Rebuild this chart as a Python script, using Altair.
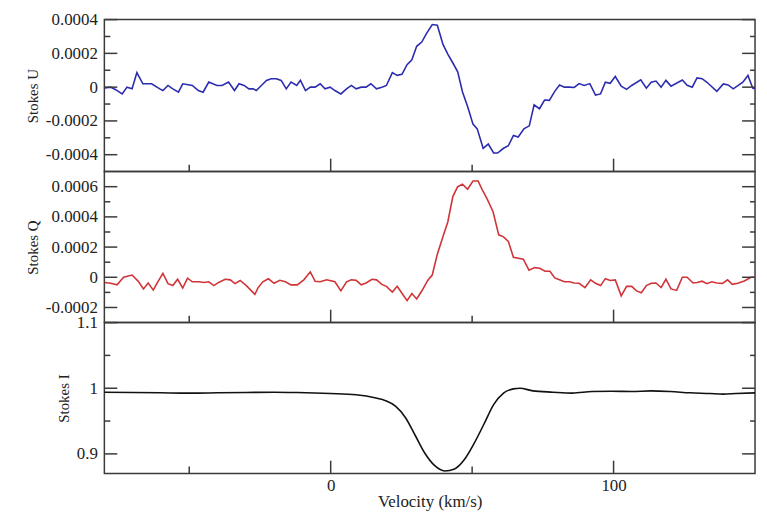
import altair as alt
import pandas as pd

# ---------------- data ----------------
vel_u = [-79.9, -77.8, -76.0, -73.7, -72.0, -70.2, -68.5, -66.4, -63.3, -60.4, -59.3, -57.5,
         -55.8, -53.8, -52.3, -48.9, -46.8, -45.1, -43.1, -40.2, -38.4, -36.1, -34.0, -32.4,
         -30.6, -28.9, -27.4, -26.3, -24.5, -22.7, -21.0, -19.2, -17.5, -15.7, -14.0, -12.0,
         -10.7, -8.9, -7.2, -5.5, -3.7, -2.0, -0.2, 1.5, 3.6, 5.6, 7.3, 9.0, 10.8, 12.5, 14.2,
         16.2, 18.1, 19.7, 21.8, 23.5, 25.2, 27.0, 28.7, 30.4, 32.2, 33.9, 35.9, 37.7, 39.7,
         41.4, 43.2, 44.9, 46.6, 48.4, 50.3, 51.8, 53.9, 55.7, 57.6, 59.0, 61.1, 62.8, 64.6,
         66.3, 68.3, 70.2, 71.9, 73.8, 75.6, 77.3, 79.2, 80.9, 82.6, 84.4, 86.1, 87.8, 89.6,
         91.6, 93.6, 95.4, 97.1, 98.8, 100.6, 102.7, 104.6, 106.4, 109.6, 111.6, 113.3, 115.0,
         116.8, 118.5, 120.3, 124.3, 126.0, 127.8, 129.5, 131.3, 133.0, 136.5, 138.8, 140.5,
         142.3, 145.7, 147.5, 149.2, 150.0]
# Stokes U in units of 1e-4
stokes_u_e4 = [-0.05, 0.0, -0.15, -0.4, 0.0, -0.1, 0.86, 0.2, 0.2, -0.1, -0.2, 0.1,
               -0.1, -0.3, 0.2, 0.1, -0.2, -0.3, 0.3, 0.1, 0.1, 0.3, -0.2, 0.2,
               0.1, -0.1, -0.1, -0.2, 0.1, 0.4, 0.5, 0.5, 0.4, -0.1, 0.3, 0.1,
               0.4, -0.2, 0.0, 0.0, 0.2, -0.1, 0.0, -0.2, -0.4, -0.1, 0.1, -0.1, 0.0, 0.0, 0.2,
               -0.1, 0.0, 0.1, 0.86, 0.7, 0.76, 1.33, 1.62, 2.42, 2.67, 3.18, 3.71, 3.67, 2.53,
               1.96, 1.43, 0.91, -0.29, -1.14, -2.19, -2.47, -3.62, -3.37, -3.9, -3.9, -3.62, -3.47, -2.86,
               -2.95, -2.47, -2.29, -1.05, -1.28, -0.76, -0.78, -0.25, 0.13, 0.0, 0.0, -0.02, 0.21, 0.1,
               0.21, -0.47, -0.4, 0.29, 0.23, 0.63, 0.06, -0.13, 0.1, 0.44, -0.06, 0.29, 0.36,
               0.0, 0.4, 0.06, 0.42, 0.11, 0.0, 0.55, 0.5, 0.29, -0.25, 0.19, 0.13,
               -0.1, 0.29, 0.69, -0.06, -0.1]

vel_q = [-79.9, -77.8, -75.5, -73.2, -70.2, -68.0, -66.2, -64.5, -62.7, -61.0, -59.3, -57.5,
         -55.8, -54.1, -52.3, -50.6, -48.9, -46.5, -44.8, -43.1, -41.3, -39.6, -37.3, -35.5,
         -33.8, -32.0, -29.8, -26.8, -25.7, -24.0, -22.0, -20.0, -18.0, -16.0, -14.0,
         -11.8, -9.5, -7.2, -5.5, -3.7, -1.4, 1.5, 3.6, 5.6, 7.3, 9.0, 10.8, 12.5, 14.6,
         16.2, 18.1, 19.7, 21.8, 23.5, 25.2, 27.0, 28.7, 30.4, 32.2, 34.3, 35.9, 37.7, 39.7,
         41.4, 43.2, 44.9, 46.6, 48.4, 50.3, 52.1, 53.6, 55.3, 57.4, 59.4, 61.1, 62.8, 64.6,
         68.1, 70.1, 72.1, 73.9, 75.8, 77.5, 79.2, 80.9, 82.6, 84.4, 86.1, 87.8, 89.9, 91.9,
         93.6, 95.4, 97.1, 98.8, 100.6, 102.7, 104.6, 106.4, 108.1, 109.8, 111.6, 113.3, 115.0,
         116.8, 118.5, 120.3, 122.3, 124.3, 126.0, 128.1, 129.5, 131.3, 133.0, 134.7, 136.5,
         138.5, 140.3, 142.0, 143.9, 146.2, 148.6, 150.0]
# Stokes Q in units of 1e-4
stokes_q_e4 = [-0.34, -0.4, -0.5, 0.0, 0.15, -0.27, -0.77, -0.38, -0.85, -0.27, 0.26, -0.42,
               -0.55, -0.13, -0.72, -0.06, -0.3, -0.3, -0.34, -0.3, -0.55, -0.34, -0.13, -0.17,
               -0.42, -0.21, -0.55, -1.13, -0.7, -0.3, -0.1, -0.4, -0.2, -0.3, -0.5,
               -0.5, -0.17, 0.36, -0.27, -0.3, -0.17, -0.3, -0.9, -0.3, -0.17, -0.2, -0.5, -0.38, -0.13,
               -0.17, -0.47, -0.6, -0.98, -0.6, -1.06, -1.55, -1.08, -1.44, -0.91, -0.21, 0.15, 1.53, 2.7,
               3.66, 5.36, 6.0, 6.17, 5.83, 6.38, 6.38, 5.79, 5.19, 4.34, 2.81, 2.68, 2.38, 1.32,
               1.2, 0.47, 0.64, 0.6, 0.4, 0.4, -0.04, -0.17, -0.3, -0.3, -0.38, -0.4, -0.68, -0.17,
               -0.4, -0.55, -0.09, -0.21, -0.17, -1.23, -0.6, -0.6, -0.9, -1.02, -0.55, -0.4, -0.38,
               -0.68, -0.13, -0.77, -0.87, 0.0, 0.0, -0.38, -0.34, -0.26, -0.42, -0.3, -0.38,
               -0.4, -0.17, -0.47, -0.4, -0.25, 0.0, 0.0]

vel_i = [-80, -70, -60, -50, -40, -30, -20, -11.8, -0.2, 9, 16, 19.4, 22.9, 26.4, 29.9, 33.3,
         36.8, 40.3, 43.8, 47.2, 50.7, 54.2, 57.6, 61.1, 64.6, 66.9, 71.5, 78.5, 85.4, 92.4,
         99.3, 106.3, 113.2, 120.1, 127.1, 134, 138.7, 143.3, 150]
stokes_i = [0.994, 0.9935, 0.993, 0.9925, 0.993, 0.9935, 0.994, 0.9935, 0.992, 0.990, 0.985,
            0.981, 0.9727, 0.9555, 0.928, 0.901, 0.882, 0.874, 0.877, 0.891, 0.916, 0.9455,
            0.975, 0.9926, 0.999, 1.0, 0.996, 0.994, 0.9926, 0.995, 0.9955, 0.995, 0.996,
            0.995, 0.993, 0.992, 0.991, 0.992, 0.993]

x_domain = [-80, 150]
x_labels = [0, 100]
x_major = [0, 100]
x_minor = [-50, 50]

u_domain = [-0.0005, 0.0004]
u_major = [-0.0004, -0.0002, 0, 0.0002, 0.0004]
u_minor = [-0.0003, -0.0001, 0.0001, 0.0003]
q_domain = [-0.0003, 0.0007]
q_major = [-0.0002, 0, 0.0002, 0.0004, 0.0006]
q_minor = [-0.0001, 0.0001, 0.0003, 0.0005]
i_domain = [0.87, 1.1]
i_major = [0.9, 1.0, 1.1]
i_minor = [0.95, 1.05]

# ---------------- chart ----------------
W = 655
FRAME = "#3a3a3a"
FONT = "Liberation Serif"
TXT = "#222222"
LABEL_EXPR = "replace(format(datum.value, '~g'), '\u2212', '-')"

df_u = pd.DataFrame({"v": vel_u, "val": [s * 1e-4 for s in stokes_u_e4]})
df_q = pd.DataFrame({"v": vel_q, "val": [s * 1e-4 for s in stokes_q_e4]})
df_i = pd.DataFrame({"v": vel_i, "val": stokes_i})

xscale = alt.Scale(domain=x_domain, nice=False, zero=False)


def panel(df, title, color, ydom, ymaj, ymin, H, show_x, interp="linear"):
    yscale = alt.Scale(domain=ydom, nice=False, zero=False)
    if show_x:
        xaxis = alt.Axis(values=x_labels, ticks=False, domain=False, grid=False,
                         title="Velocity (km/s)", labelPadding=4, titlePadding=0,
                         labelFlush=False, format="d",
                         labelFont=FONT, titleFont=FONT, labelFontSize=17, titleFontSize=17,
                         labelColor=TXT, titleColor=TXT, titleFontWeight="normal")
    else:
        xaxis = None
    yaxis = alt.Axis(title=title, values=ymaj, ticks=False, domain=False, grid=False,
                     labelExpr=LABEL_EXPR, labelPadding=7, titlePadding=5,
                     labelOverlap=False, labelFont=FONT, titleFont=FONT,
                     labelFontSize=17, titleFontSize=15,
                     labelColor=TXT, titleColor=TXT, titleFontWeight="normal")
    line = alt.Chart(df).mark_line(color=color, strokeWidth=1.6, interpolate=interp).encode(
        x=alt.X("v:Q", scale=xscale, axis=xaxis, title="Velocity (km/s)"),
        y=alt.Y("val:Q", scale=yscale, axis=yaxis, title=title),
    )
    layers = [line]
    ymaj_df = pd.DataFrame({"t": ymaj})
    ymin_df = pd.DataFrame({"t": ymin})
    for d, ln in ((ymaj_df, 13), (ymin_df, 6)):
        layers.append(alt.Chart(d).mark_rule(color=FRAME, strokeWidth=1.5).encode(
            y=alt.Y("t:Q", scale=yscale, axis=yaxis, title=title),
            x=alt.value(0), x2=alt.value(ln)))
    for d, ln in ((ymaj_df, 13), (ymin_df, 5)):
        layers.append(alt.Chart(d).mark_rule(color=FRAME, strokeWidth=1.5).encode(
            y=alt.Y("t:Q", scale=yscale, axis=yaxis, title=title),
            x=alt.value(W), x2=alt.value(W - ln)))
    for vals, ln in ((x_major, 13), (x_minor, 7)):
        layers.append(alt.Chart(pd.DataFrame({"t": vals})).mark_rule(color=FRAME, strokeWidth=1.5).encode(
            x=alt.X("t:Q", scale=xscale, axis=xaxis, title="Velocity (km/s)"),
            y=alt.value(H), y2=alt.value(H - ln)))
    return alt.layer(*layers).properties(width=W, height=H)


p_u = panel(df_u, "Stokes U", "#2c2cb0", u_domain, u_major, u_minor, 153, False)
p_q = panel(df_q, "Stokes Q", "#d03438", q_domain, q_major, q_minor, 152, False)
p_i = panel(df_i, "Stokes I", "#111111", i_domain, i_major, i_minor, 152, True, "monotone")

chart = alt.vconcat(p_u, p_q, p_i, spacing=0, bounds="flush").properties(
    padding={"left": 16, "top": 0, "right": 0, "bottom": 0},
    background="white",
).configure_view(
    stroke=FRAME, strokeWidth=1.5
)

chart.save("out.html", embed_options={"renderer": "svg", "actions": False})
